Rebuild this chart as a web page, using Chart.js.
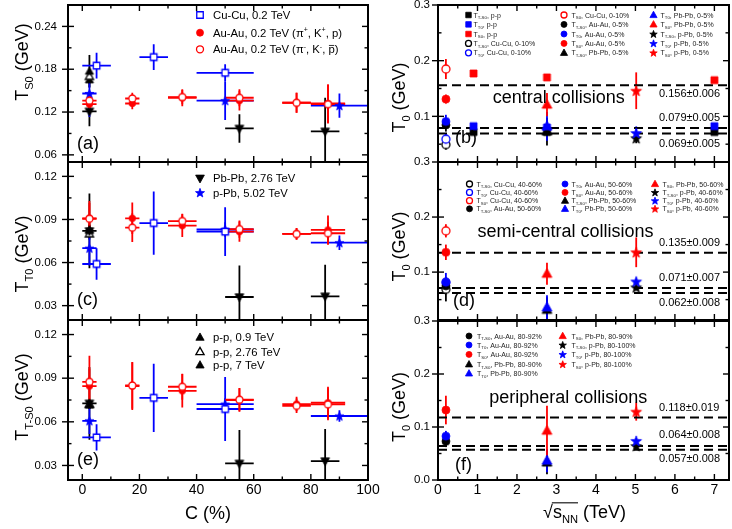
<!DOCTYPE html>
<html>
<head>
<meta charset="utf-8">
<title>Kinetic freeze-out temperatures</title>
<script src="https://cdn.jsdelivr.net/npm/chart.js@4.4.1/dist/chart.umd.min.js"></script>
<style>
  html, body { margin: 0; padding: 0; background: #fff; }
  #fig { position: relative; width: 732px; height: 529px; overflow: hidden; background: #fff; }
  #fig canvas { position: absolute; }
  #ov { left: 0; top: 0; pointer-events: none; z-index: 10; }
</style>
</head>
<body>
<div id="fig">
  <canvas id="pa"></canvas>
  <canvas id="pc"></canvas>
  <canvas id="pe"></canvas>
  <canvas id="pb"></canvas>
  <canvas id="pd"></canvas>
  <canvas id="pf"></canvas>
  <canvas id="ov" width="732" height="529"></canvas>
</div>
<script>
const FONT = '"Liberation Sans", Arial, Helvetica, sans-serif';
const RED = '#ff0000', BLUE = '#0000ff', BLACK = '#000000';

// ---------- centrality bins, C (%) : centre and half width ----------
const cCuCu = [5, 25, 50];
const cCuCuHalf = [5, 5, 10];
const cAuAu = [2.5, 17.5, 35, 55, 75, 86];
const cAuAuHalf = [2.5, 2.5, 5, 5, 5, 6];
const cPbPb = [2.5, 55, 85];
const cPbPbHalf = [2.5, 5, 5];
const cPPb = [2.5, 50, 90];
const cPPbHalf = [2.5, 10, 10];
const cPP = [2.5, 2.5, 2.5];          // p-p at 0.9, 2.76, 7 TeV

// ---------- T_S0 (GeV) ----------
const ts0CuCu = [0.185, 0.197, 0.175];
const ts0CuCuErr = [0.018, 0.018, 0.012];
const ts0AuAuPos = [0.131, 0.132, 0.140, 0.136, 0.133, 0.132];
const ts0AuAuPosErr = [0.008, 0.008, 0.012, 0.014, 0.014, 0.027];
const ts0AuAuNeg = [0.136, 0.139, 0.141, 0.140, 0.133, 0.131];
const ts0AuAuNegErr = [0.008, 0.008, 0.010, 0.012, 0.014, 0.027];
const ts0PbPb = [0.121, 0.097, 0.093];
const ts0PbPbErr = [0.021, 0.020, 0.047];
const ts0PPb = [0.146, 0.136, 0.129];
const ts0PPbErr = [0.033, 0.027, 0.017];
const ts0PP = [0.177, 0.170, 0.165];
const ts0PPErr = [0.023, 0.010, 0.010];

// ---------- T_T0 (GeV) ----------
const tt0CuCu = [0.059, 0.0875, 0.0815];
const tt0CuCuErr = [0.011, 0.022, 0.017];
const tt0AuAuPos = [0.0908, 0.0908, 0.0857, 0.0815, 0.0800, 0.0827];
const tt0AuAuPosErr = [0.012, 0.011, 0.008, 0.007, 0.004, 0.010];
const tt0AuAuNeg = [0.0905, 0.0843, 0.0889, 0.0833, 0.0799, 0.0804];
const tt0AuAuNegErr = [0.011, 0.010, 0.005, 0.006, 0.004, 0.008];
const tt0PbPb = [0.082, 0.036, 0.0365];
const tt0PbPbErr = [0.026, 0.022, 0.022];
const tt0PPb = [0.070, 0.083, 0.0738];
const tt0PPbErr = [0.012, 0.005, 0.005];
const tt0PP = [0.0824, 0.080, 0.0824];
const tt0PPErr = [0.004, 0.004, 0.004];

// ---------- T_T-S0 (GeV) ----------
const ttsCuCu = [0.0493, 0.0765, 0.0688];
const ttsCuCuErr = [0.009, 0.0235, 0.022];
const ttsAuAuPos = [0.0846, 0.0846, 0.0813, 0.075, 0.0722, 0.0731];
const ttsAuAuPosErr = [0.012, 0.0165, 0.0115, 0.008, 0.005, 0.011];
const ttsAuAuNeg = [0.0875, 0.085, 0.0841, 0.0752, 0.071, 0.072];
const ttsAuAuNegErr = [0.018, 0.016, 0.009, 0.008, 0.005, 0.011];
const ttsPbPb = [0.0727, 0.0314, 0.033];
const ttsPbPbErr = [0.025, 0.023, 0.022];
const ttsPPb = [0.0607, 0.0722, 0.064];
const ttsPPbErr = [0.009, 0.004, 0.004];
const ttsPP = [0.0718, 0.072, 0.0718];
const ttsPPErr = [0.003, 0.003, 0.003];

// ---------- collision energies, sqrt(s_NN) (TeV) ----------
const sqrtSCuCu = 0.2;
const sqrtSAuAu = 0.2;
const sqrtSPbPb = 2.76;
const sqrtSPPb = 5.02;
const sqrtSPP = [0.9, 2.76, 7];

// centrality class picked for each system (index into the arrays above)
const centralIdx = { CuCu: 0, AuAu: 0, PbPb: 0, PPb: 0 };
const semiIdx = { CuCu: 2, AuAu: 3, PbPb: 1, PPb: 1 };
const periIdx = { CuCu: null, AuAu: 5, PbPb: 2, PPb: 2 };

// averages (T_S0, T_T0, T_T-S0) per class
const meanCentral = [0.156, 0.079, 0.069];
const meanCentralErr = [0.006, 0.005, 0.005];
const meanSemi = [0.135, 0.071, 0.062];
const meanSemiErr = [0.009, 0.007, 0.008];
const meanPeri = [0.118, 0.064, 0.057];
const meanPeriErr = [0.019, 0.008, 0.008];

// ---------- tick labels ----------
const cTicks = [0, 20, 40, 60, 80, 100];
const sTicks = [0, 1, 2, 3, 4, 5, 6, 7];
const ts0Ticks = [0.06, 0.12, 0.18, 0.24];
const tt0Ticks = [0.03, 0.06, 0.09, 0.12];
const ttsTicks = [0.03, 0.06, 0.09, 0.12];
const t0Ticks = [0.0, 0.1, 0.2, 0.3];

// ---------- y ranges shown by each panel ----------
const yRange = {
  pa: [0.05, 0.27], pc: [0.02, 0.13], pe: [0.02, 0.13],
  pb: [0.018, 0.3], pd: [0.013, 0.3], pf: [0, 0.3]
};

// ---------- canvas boxes (page px) and plot-area padding ----------
const boxes = {
  pa: { left: 0, top: 0, width: 392, height: 175, pad: { left: 0, top: 3, right: 24, bottom: 13 }, yw: 68, xh: 0 },
  pc: { left: 0, top: 140, width: 392, height: 190, pad: { left: 0, top: 22, right: 24, bottom: 10 }, yw: 68, xh: 0 },
  pe: { left: 0, top: 298, width: 392, height: 231, pad: { left: 0, top: 22, right: 24, bottom: 0 }, yw: 68, xh: 49 },
  pb: { left: 370, top: 0, width: 364, height: 175, pad: { left: 0, top: 3, right: 1, bottom: 13 }, yw: 68, xh: 0 },
  pd: { left: 370, top: 140, width: 364, height: 190, pad: { left: 0, top: 22, right: 1, bottom: 10 }, yw: 68, xh: 0 },
  pf: { left: 370, top: 299, width: 364, height: 230, pad: { left: 0, top: 22, right: 1, bottom: 0 }, yw: 68, xh: 49 }
};

// ---------- marker sprites ----------
function markerPath(g, shape, x, y, s) {
  g.beginPath();
  if (shape === 'circle') {
    g.arc(x, y, s / 2, 0, Math.PI * 2);
  } else if (shape === 'square') {
    g.rect(x - s / 2, y - s / 2, s, s);
  } else if (shape === 'up') {
    g.moveTo(x, y - s * 0.58); g.lineTo(x + s * 0.55, y + s * 0.4); g.lineTo(x - s * 0.55, y + s * 0.4); g.closePath();
  } else if (shape === 'down') {
    g.moveTo(x, y + s * 0.58); g.lineTo(x + s * 0.55, y - s * 0.4); g.lineTo(x - s * 0.55, y - s * 0.4); g.closePath();
  } else if (shape === 'star') {
    for (let k = 0; k < 10; k++) {
      const r = k % 2 ? s * 0.23 : s * 0.56;
      const a = -Math.PI / 2 + k * Math.PI / 5;
      const px = x + r * Math.cos(a), py = y + r * Math.sin(a) + s * 0.05;
      k ? g.lineTo(px, py) : g.moveTo(px, py);
    }
    g.closePath();
  }
}
function paintMarker(g, shape, x, y, s, color, open) {
  markerPath(g, shape, x, y, s);
  g.fillStyle = open ? '#ffffff' : color;
  g.fill();
  g.lineWidth = open ? 1.3 : 0.8;
  g.strokeStyle = color;
  g.stroke();
}
const spriteCache = {};
function sprite(shape, size, color, open) {
  const key = [shape, size, color, open].join('|');
  if (spriteCache[key]) return spriteCache[key];
  const n = Math.ceil(size) + 4;
  const c = document.createElement('canvas');
  c.width = n; c.height = n;
  paintMarker(c.getContext('2d'), shape, n / 2, n / 2, size, color, open);
  spriteCache[key] = c;
  return c;
}

function series(xs, ys, look, xErr, yErr) {
  return {
    data: xs.map((x, i) => ({ x: x, y: ys[i] })),
    pointStyle: sprite(look.shape, look.size, look.color, !!look.open),
    pointRadius: 4, pointHoverRadius: 4, showLine: false,
    borderColor: look.color, backgroundColor: look.color,
    xErr: xErr || null, yErr: yErr || null, errColor: look.color
  };
}
function meanLine(v) {
  return {
    data: [{ x: 0, y: v }, { x: 7.37, y: v }],
    showLine: true, borderColor: BLACK, borderWidth: 2, borderDash: [9, 5],
    pointRadius: 0, pointHoverRadius: 0, fill: false
  };
}

// ---------- left column: versus centrality ----------
function centralitySets(v) {
  return [
    series(cAuAu, v.auNeg, { shape: 'circle', size: 7, color: RED, open: true }, cAuAuHalf, v.auNegErr),
    series(cAuAu, v.auPos, { shape: 'circle', size: 6.5, color: RED }, cAuAuHalf, v.auPosErr),
    series(cCuCu, v.cucu, { shape: 'square', size: 6.5, color: BLUE, open: true }, cCuCuHalf, v.cucuErr),
    series(cPPb, v.ppb, { shape: 'star', size: 8.5, color: BLUE }, cPPbHalf, v.ppbErr),
    series(cPbPb, v.pbpb, { shape: 'down', size: 8, color: BLACK }, cPbPbHalf, v.pbpbErr),
    series([cPP[0]], [v.pp[0]], { shape: 'up', size: 7.5, color: BLACK }, null, [v.ppErr[0]]),
    series([cPP[1]], [v.pp[1]], { shape: 'up', size: 7.5, color: BLACK, open: true }, null, [v.ppErr[1]]),
    series([cPP[2]], [v.pp[2]], { shape: 'up', size: 7.5, color: BLACK }, null, [v.ppErr[2]])
  ];
}

// ---------- right column: versus collision energy ----------
function energySets(cls, means) {
  const sets = [];
  const one = (x, y, e, look) => sets.push(series([x], [y], look, null, e ? [e] : null));
  const trio = (x, i, tsA, tsE, ttA, ttE, txA, txE, shape, size, open) => {
    one(x, tsA[i], tsE[i], { shape, size, color: RED, open });
    one(x, ttA[i], ttE[i], { shape, size, color: BLUE, open });
    one(x, txA[i], txE[i], { shape, size, color: BLACK, open });
  };
  trio(sqrtSPPb, cls.PPb, ts0PPb, ts0PPbErr, tt0PPb, tt0PPbErr, ttsPPb, ttsPPbErr, 'star', 10, false);
  trio(sqrtSPbPb, cls.PbPb, ts0PbPb, ts0PbPbErr, tt0PbPb, tt0PbPbErr, ttsPbPb, ttsPbPbErr, 'up', 9, false);
  trio(sqrtSAuAu, cls.AuAu, ts0AuAuPos, ts0AuAuPosErr, tt0AuAuPos, tt0AuAuPosErr, ttsAuAuPos, ttsAuAuPosErr, 'circle', 8, false);
  if (cls.CuCu !== null) {
    trio(sqrtSCuCu, cls.CuCu, ts0CuCu, ts0CuCuErr, tt0CuCu, tt0CuCuErr, ttsCuCu, ttsCuCuErr, 'circle', 8, true);
  }
  if (cls.withPP) {
    sets.push(series(sqrtSPP, ts0PP, { shape: 'square', size: 7, color: RED }));
    sets.push(series(sqrtSPP, tt0PP, { shape: 'square', size: 7, color: BLUE }));
    sets.push(series(sqrtSPP, ttsPP, { shape: 'square', size: 7, color: BLACK }));
  }
  means.forEach(m => sets.push(meanLine(m)));
  return sets;
}

// ---------- rich text (sub/superscripts, bars) ----------
function segFont(size, s) { return ((s.sub || s.sup) ? size * 0.62 : size) + 'px ' + FONT; }
function richWidth(g, segs, size) {
  let w = 0;
  segs.forEach(s => { g.font = segFont(size, s); w += g.measureText(s.t).width; });
  return w;
}
function drawRich(g, segs, x, base, size, align, color) {
  const w = richWidth(g, segs, size);
  let cx = align === 'center' ? x - w / 2 : (align === 'right' ? x - w : x);
  g.fillStyle = color || BLACK; g.strokeStyle = color || BLACK;
  g.textAlign = 'left'; g.textBaseline = 'alphabetic';
  let o0 = null, o1 = null;
  segs.forEach(s => {
    g.font = segFont(size, s);
    const dy = s.sub ? size * 0.24 : (s.sup ? -size * 0.42 : 0);
    const sw = g.measureText(s.t).width;
    g.fillText(s.t, cx, base + dy);
    if (s.bar) {
      g.lineWidth = Math.max(0.8, size * 0.07);
      g.beginPath(); g.moveTo(cx + 0.5, base - size * 0.7); g.lineTo(cx + sw - 0.5, base - size * 0.7); g.stroke();
    }
    if (s.over) { if (o0 === null) o0 = cx; o1 = cx + sw; }
    cx += sw;
  });
  if (o0 !== null) {
    g.lineWidth = Math.max(1, size * 0.06);
    g.beginPath(); g.moveTo(o0 - 1, base - size * 0.86); g.lineTo(o1, base - size * 0.86); g.stroke();
  }
}
function drawRichUp(g, segs, cx, cy, size) {
  g.save(); g.translate(cx, cy); g.rotate(-Math.PI / 2);
  drawRich(g, segs, 0, size * 0.36, size, 'center');
  g.restore();
}

// ---------- legend entries ----------
const T = (sub, rest) => [{ t: 'T' }, { t: sub, sub: 1 }, { t: rest }];
function grid(cols, rowsY, entries, perCol) {
  return entries.map((e, i) => {
    const c = cols[Math.floor(i / perCol)];
    return { mx: c[0], tx: c[1], y: rowsY[i % perCol], shape: e[0], color: e[1], open: e[2], size: e[3], segs: T(e[4], e[5]) };
  });
}
const legendB = grid([[468.5, 473.5], [564, 571.5], [653.5, 660.5]], [15, 24.4, 34, 43.4, 52.8], [
  ['square', BLACK, false, 5.5, 'T-S0', ', p-p'], ['square', BLUE, false, 5.5, 'T0', ', p-p'], ['square', RED, false, 5.5, 'S0', ', p-p'],
  ['circle', BLACK, true, 6, 'T-S0', ', Cu-Cu, 0-10%'], ['circle', BLUE, true, 6, 'T0', ', Cu-Cu, 0-10%'],
  ['circle', RED, true, 6, 'S0', ', Cu-Cu, 0-10%'], ['circle', BLACK, false, 6, 'T-S0', ', Au-Au, 0-5%'], ['circle', BLUE, false, 6, 'T0', ', Au-Au, 0-5%'],
  ['circle', RED, false, 6, 'S0', ', Au-Au, 0-5%'], ['up', BLACK, false, 6.5, 'T-S0', ', Pb-Pb, 0-5%'],
  ['up', BLUE, false, 6.5, 'T0', ', Pb-Pb, 0-5%'], ['up', RED, false, 6.5, 'S0', ', Pb-Pb, 0-5%'], ['star', BLACK, false, 7, 'T-S0', ', p-Pb, 0-5%'],
  ['star', BLUE, false, 7, 'T0', ', p-Pb, 0-5%'], ['star', RED, false, 7, 'S0', ', p-Pb, 0-5%']
], 5);
const legendD = grid([[469.5, 476.5], [565, 571.5], [655, 662.5]], [184, 192.4, 200.7, 208.8], [
  ['circle', BLACK, true, 6, 'T-S0', ', Cu-Cu, 40-60%'], ['circle', BLUE, true, 6, 'T0', ', Cu-Cu, 40-60%'], ['circle', RED, true, 6, 'S0', ', Cu-Cu, 40-60%'],
  ['circle', BLACK, false, 6, 'T-S0', ', Au-Au, 50-60%'],
  ['circle', BLUE, false, 6, 'T0', ', Au-Au, 50-60%'], ['circle', RED, false, 6, 'S0', ', Au-Au, 50-60%'], ['up', BLACK, false, 6.5, 'T-S0', ', Pb-Pb, 50-60%'],
  ['up', BLUE, false, 6.5, 'T0', ', Pb-Pb, 50-60%'],
  ['up', RED, false, 6.5, 'S0', ', Pb-Pb, 50-60%'], ['star', BLACK, false, 7, 'T-S0', ', p-Pb, 40-60%'], ['star', BLUE, false, 7, 'T0', ', p-Pb, 40-60%'],
  ['star', RED, false, 7, 'S0', ', p-Pb, 40-60%']
], 4);
const legendF = grid([[469, 477], [562.7, 571.5]], [336, 345, 354.4, 364.3, 373.4], [
  ['circle', BLACK, false, 6, 'T-S0', ', Au-Au, 80-92%'], ['circle', BLUE, false, 6, 'T0', ', Au-Au, 80-92%'], ['circle', RED, false, 6, 'S0', ', Au-Au, 80-92%'],
  ['up', BLACK, false, 6.5, 'T-S0', ', Pb-Pb, 80-90%'], ['up', BLUE, false, 6.5, 'T0', ', Pb-Pb, 80-90%'],
  ['up', RED, false, 6.5, 'S0', ', Pb-Pb, 80-90%'], ['star', BLACK, false, 7, 'T-S0', ', p-Pb, 80-100%'], ['star', BLUE, false, 7, 'T0', ', p-Pb, 80-100%'],
  ['star', RED, false, 7, 'S0', ', p-Pb, 80-100%']
], 5);

const L = (y, shape, color, open, size, segs) => ({ mx: 200, tx: 213, y, shape, color, open, size, segs });
const legendA = [
  L(15, 'square', BLUE, true, 6.5, [{ t: 'Cu-Cu, 0.2 TeV' }]),
  L(32.7, 'circle', RED, false, 7, [{ t: 'Au-Au, 0.2 TeV (π' }, { t: '+', sup: 1 }, { t: ', K' }, { t: '+', sup: 1 }, { t: ', p)' }]),
  L(49.3, 'circle', RED, true, 7, [{ t: 'Au-Au, 0.2 TeV (π' }, { t: '-', sup: 1 }, { t: ', K' }, { t: '-', sup: 1 }, { t: ', ' }, { t: 'p', bar: 1 }, { t: ')' }])
];
const legendC = [
  L(178.3, 'down', BLACK, false, 8, [{ t: 'Pb-Pb, 2.76 TeV' }]),
  L(192.7, 'star', BLUE, false, 8.5, [{ t: 'p-Pb, 5.02 TeV' }])
];
const legendE = [
  L(337.3, 'up', BLACK, false, 7.5, [{ t: 'p-p, 0.9 TeV' }]),
  L(351.7, 'up', BLACK, true, 7.5, [{ t: 'p-p, 2.76 TeV' }]),
  L(365, 'up', BLACK, false, 7.5, [{ t: 'p-p, 7 TeV' }])
];

// ---------- per-panel decoration ----------
const panels = {
  pa: { xTicks: cTicks, xMinor: 10, yTicks: ts0Ticks, yDigits: 2, yPad: 11, yMinor: 0.03, yTitle: T('S0', ' (GeV)'), yTitleAt: [22, 62], tag: '(a)', tagAt: [77, 144], legend: legendA, legendFont: 11.3 },
  pc: { xTicks: cTicks, xMinor: 10, yTicks: tt0Ticks, yDigits: 2, yPad: 11, yMinor: 0.015, yTitle: T('T0', ' (GeV)'), yTitleAt: [22, 254], tag: '(c)', tagAt: [77, 300.5], legend: legendC, legendFont: 11.3 },
  pe: { xTicks: cTicks, xMinor: 10, yTicks: ttsTicks, yDigits: 2, yPad: 11, yMinor: 0.015, yTitle: T('T-S0', ' (GeV)'), yTitleAt: [22, 397], tag: '(e)', tagAt: [77, 460], legend: legendE, legendFont: 11.3,
        xTitle: [{ t: 'C (%)' }], xTitleAt: [208, 519.3] },
  pb: { xTicks: sTicks, xMinor: 0.5, yTicks: t0Ticks, yDigits: 1, yPad: 8, yMinor: 0.05, yTitle: T('0', ' (GeV)'), yTitleAt: [399, 97.5], tag: '(b)', tagAt: [455, 138], legend: legendB, legendFont: 7,
        caption: 'central collisions', captionAt: [558.8, 102.7], means: meanCentral, meansErr: meanCentralErr, meanDy: [9, -10.5, 10] },
  pd: { xTicks: sTicks, xMinor: 0.5, yTicks: t0Ticks, yDigits: 1, yPad: 8, yMinor: 0.05, yTitle: T('0', ' (GeV)'), yTitleAt: [399, 246.5], tag: '(d)', tagAt: [453, 301.5], legend: legendD, legendFont: 7,
        caption: 'semi-central collisions', captionAt: [565.5, 236.7], means: meanSemi, meansErr: meanSemiErr, meanDy: [-9.5, -10, 9.5] },
  pf: { xTicks: sTicks, xMinor: 0.5, yTicks: t0Ticks, yDigits: 1, yPad: 8, yMinor: 0.05, yTitle: T('0', ' (GeV)'), yTitleAt: [399, 407], tag: '(f)', tagAt: [455, 465], legend: legendF, legendFont: 7,
        caption: 'peripheral collisions', captionAt: [568.3, 403.3], means: meanPeri, meansErr: meanPeriErr, meanDy: [-9.5, -11, 9.5],
        xTitle: [{ t: '√' }, { t: 's', over: 1 }, { t: 'NN', sub: 1, over: 1 }, { t: ' (TeV)' }], xTitleAt: [584.5, 518.3] }
};

function minorValues(min, max, step, majors) {
  const out = [];
  for (let k = Math.ceil(min / step - 1e-6); k * step <= max + 1e-6; k++) {
    const v = k * step;
    if (!majors.some(m => Math.abs(m - v) < step * 1e-3)) out.push(v);
  }
  return out;
}
const within = (v, lo, hi) => v >= lo - 1e-6 && v <= hi + 1e-6;

// all lettering goes on one sheet laid over the six panels
const overlay = document.getElementById('ov').getContext('2d');
const lettered = {};

const decor = {
  id: 'panelDecor',
  beforeDatasetsDraw(chart) {
    const { ctx, chartArea: a } = chart;
    const xs = chart.scales.x, ys = chart.scales.y;
    ctx.save();
    ctx.beginPath(); ctx.rect(a.left, a.top, a.right - a.left, a.bottom - a.top); ctx.clip();
    ctx.lineWidth = 1.8;
    const sets = chart.data.datasets;
    for (let d = sets.length - 1; d >= 0; d--) {
      const ds = sets[d];
      if (!ds.xErr && !ds.yErr) continue;
      ctx.strokeStyle = ds.errColor;
      ds.data.forEach((p, i) => {
        const px = xs.getPixelForValue(p.x), py = ys.getPixelForValue(p.y);
        ctx.beginPath();
        if (ds.xErr && ds.xErr[i]) {
          ctx.moveTo(xs.getPixelForValue(p.x - ds.xErr[i]), py);
          ctx.lineTo(xs.getPixelForValue(p.x + ds.xErr[i]), py);
        }
        if (ds.yErr && ds.yErr[i]) {
          ctx.moveTo(px, ys.getPixelForValue(p.y - ds.yErr[i]));
          ctx.lineTo(px, ys.getPixelForValue(p.y + ds.yErr[i]));
        }
        ctx.stroke();
      });
    }
    ctx.restore();
  },
  afterDraw(chart) {
    const id = chart.canvas.id, P = panels[id], B = boxes[id], R = yRange[id];
    const { ctx, chartArea: a } = chart;
    const xs = chart.scales.x, ys = chart.scales.y;
    const seg = (x1, y1, x2, y2) => { ctx.beginPath(); ctx.moveTo(x1, y1); ctx.lineTo(x2, y2); ctx.stroke(); };
    ctx.save();
    ctx.strokeStyle = BLACK; ctx.lineWidth = 1.4;
    // x ticks on bottom and top edges, pointing inwards
    const xMaj = P.xTicks, xMin = minorValues(xs.min, xs.max, P.xMinor, xMaj);
    [[xMaj, 6], [xMin, 3.5]].forEach(([vals, len]) => vals.forEach(v => {
      const px = xs.getPixelForValue(v);
      if (px < a.left - 1 || px > a.right + 1) return;
      seg(px, a.bottom, px, a.bottom - len);
      seg(px, a.top, px, a.top + len);
    }));
    // y ticks: major cross the left edge, minor inside; mirrored on the right edge
    const yMaj = P.yTicks
      .filter(v => within(v, R[0], R[1]))
      .map(v => ({ v: v, py: Math.min(Math.max(ys.getPixelForValue(v), a.top), a.bottom) }));
    const yMin = minorValues(R[0], R[1], P.yMinor, P.yTicks);
    yMaj.forEach(t => {
      seg(a.left - 6, t.py, a.left + 6, t.py);
      seg(a.right, t.py, a.right - 6, t.py);
    });
    yMin.forEach(v => {
      const py = ys.getPixelForValue(v);
      seg(a.left, py, a.left + 3.5, py);
      seg(a.right, py, a.right - 3.5, py);
    });
    ctx.lineWidth = 2;
    ctx.strokeRect(a.left, a.top, a.right - a.left, a.bottom - a.top);
    ctx.restore();

    if (lettered[id]) return;
    lettered[id] = true;
    const o = overlay;
    o.save();
    // y tick labels, page coordinates of this panel's scale
    o.font = '11.5px ' + FONT; o.fillStyle = BLACK; o.textAlign = 'right'; o.textBaseline = 'middle';
    yMaj.forEach(t => {
      o.fillText(t.v.toFixed(P.yDigits), B.left + a.left - P.yPad, B.top + t.py);
    });
    drawRichUp(o, P.yTitle, P.yTitleAt[0], P.yTitleAt[1], 18);
    if (P.xTitle) drawRich(o, P.xTitle, P.xTitleAt[0], P.xTitleAt[1], 18, 'center');
    o.font = '18px ' + FONT; o.fillStyle = BLACK; o.textAlign = 'left'; o.textBaseline = 'middle';
    o.fillText(P.tag, P.tagAt[0], P.tagAt[1]);
    if (P.caption) {
      o.textAlign = 'center'; o.textBaseline = 'alphabetic';
      o.fillText(P.caption, P.captionAt[0], P.captionAt[1]);
    }
    if (P.means) {
      o.font = '11px ' + FONT; o.textAlign = 'left'; o.textBaseline = 'middle';
      P.means.forEach((m, i) => {
        const py = ys.getPixelForValue(m) + B.top;
        o.fillText(m.toFixed(3) + '±' + P.meansErr[i].toFixed(3), 659, py + P.meanDy[i]);
      });
    }
    const fs = P.legendFont;
    P.legend.forEach(it => {
      paintMarker(o, it.shape, it.mx, it.y, it.size, it.color, it.open);
      drawRich(o, it.segs, it.tx, it.y + fs * 0.36, fs, 'left', fs < 9 ? '#222' : BLACK);
    });
    o.restore();
  }
};
Chart.register(decor);
Chart.defaults.font.family = FONT;
Chart.defaults.color = BLACK;

function zeroPad(s) { s.paddingLeft = 0; s.paddingRight = 0; s.paddingTop = 0; s.paddingBottom = 0; }
function inRange(ticks, min, max) {
  return ticks.filter(v => within(v, min, max)).map(v => ({ value: v }));
}
function xScale(min, max, ticks, show, box) {
  return {
    type: 'linear', position: 'bottom', min: min, max: max, bounds: 'data',
    grid: { display: false, drawTicks: false }, border: { display: false },
    ticks: { display: show, autoSkip: false, maxRotation: 0, minRotation: 0, padding: 2, color: BLACK,
             font: { family: FONT, size: 14 }, callback: v => String(v) },
    afterBuildTicks: s => { s.ticks = inRange(ticks, min, max); },
    afterFit: s => { s.height = box.xh; zeroPad(s); }
  };
}
// the y axis keeps its width; its labels are lettered on the overlay
function yScale(id, ticks) {
  const [min, max] = yRange[id], box = boxes[id];
  return {
    type: 'linear', position: 'left', min: min, max: max, bounds: 'data',
    grid: { display: false, drawTicks: false }, border: { display: false },
    ticks: { display: false, autoSkip: false },
    afterBuildTicks: s => { s.ticks = inRange(ticks, min, max); },
    afterFit: s => { s.width = box.yw; zeroPad(s); }
  };
}

function makeChart(id, datasets, xs, ys) {
  const B = boxes[id];
  const cv = document.getElementById(id);
  cv.width = B.width; cv.height = B.height;
  cv.style.left = B.left + 'px'; cv.style.top = B.top + 'px';
  cv.style.width = B.width + 'px'; cv.style.height = B.height + 'px';
  return new Chart(cv, {
    type: 'scatter',
    data: { datasets: datasets },
    options: {
      responsive: false, animation: false, devicePixelRatio: 1, events: [],
      layout: { padding: B.pad },
      plugins: { legend: { display: false }, tooltip: { enabled: false } },
      scales: { x: xs, y: ys }
    }
  });
}

const leftX = (id, show) => xScale(-5, 100, cTicks, show, boxes[id]);
const rightX = (id, show) => xScale(0, 7.37, sTicks, show, boxes[id]);

makeChart('pa', centralitySets({
  cucu: ts0CuCu, cucuErr: ts0CuCuErr, auPos: ts0AuAuPos, auPosErr: ts0AuAuPosErr, auNeg: ts0AuAuNeg, auNegErr: ts0AuAuNegErr,
  pbpb: ts0PbPb, pbpbErr: ts0PbPbErr, ppb: ts0PPb, ppbErr: ts0PPbErr, pp: ts0PP, ppErr: ts0PPErr
}), leftX('pa', false), yScale('pa', ts0Ticks));

makeChart('pc', centralitySets({
  cucu: tt0CuCu, cucuErr: tt0CuCuErr, auPos: tt0AuAuPos, auPosErr: tt0AuAuPosErr, auNeg: tt0AuAuNeg, auNegErr: tt0AuAuNegErr,
  pbpb: tt0PbPb, pbpbErr: tt0PbPbErr, ppb: tt0PPb, ppbErr: tt0PPbErr, pp: tt0PP, ppErr: tt0PPErr
}), leftX('pc', false), yScale('pc', tt0Ticks));

makeChart('pe', centralitySets({
  cucu: ttsCuCu, cucuErr: ttsCuCuErr, auPos: ttsAuAuPos, auPosErr: ttsAuAuPosErr, auNeg: ttsAuAuNeg, auNegErr: ttsAuAuNegErr,
  pbpb: ttsPbPb, pbpbErr: ttsPbPbErr, ppb: ttsPPb, ppbErr: ttsPPbErr, pp: ttsPP, ppErr: ttsPPErr
}), leftX('pe', true), yScale('pe', ttsTicks));

makeChart('pb', energySets(Object.assign({ withPP: true }, centralIdx), meanCentral), rightX('pb', false), yScale('pb', t0Ticks));
makeChart('pd', energySets(Object.assign({ withPP: false }, semiIdx), meanSemi), rightX('pd', false), yScale('pd', t0Ticks));
makeChart('pf', energySets(Object.assign({ withPP: false }, periIdx), meanPeri), rightX('pf', true), yScale('pf', t0Ticks));
</script>
</body>
</html>
